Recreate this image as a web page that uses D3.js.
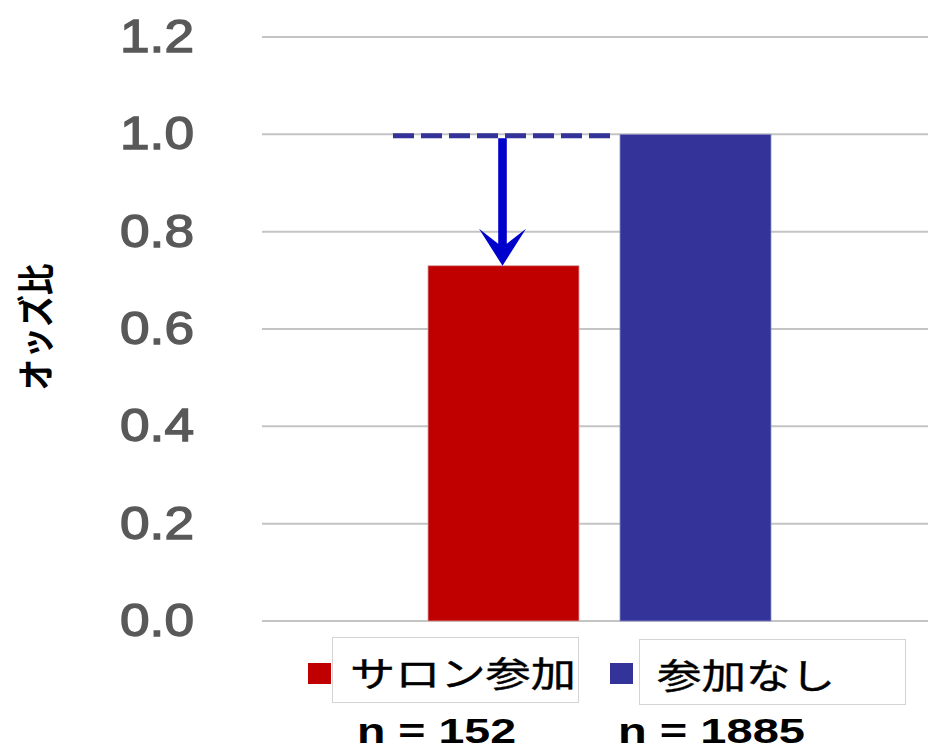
<!DOCTYPE html>
<html>
<head>
<meta charset="utf-8">
<script src="https://cdn.jsdelivr.net/npm/d3@7"></script>
<style>
  html, body { margin: 0; padding: 0; background: #fff; }
  svg { display: block; }
</style>
</head>
<body>
<svg id="chart" width="928" height="749"></svg>
<script>
// Odds ratio of the two groups
const categories = ["サロン参加", "参加なし"];
const oddsRatios = [0.73, 1.0];
const sampleSizes = [152, 1885];
const barColors = ["#C00000", "#333399"];
const yTicks = [0, 0.2, 0.4, 0.6, 0.8, 1.0, 1.2];
const referenceValue = 1.0;
const yTitle = "オッズ比";

const W = 928, H = 749;
const svg = d3.select("#chart");

const y = d3.scaleLinear().domain([0, 1.2]).range([621, 37]);
const x = d3.scaleBand()
  .domain(categories)
  .range([407.5, 791.5])
  .paddingInner(0.2135)
  .paddingOuter(0.1068);

const LATIN = "'Liberation Sans', Arial, sans-serif";
const CJK = "'Noto Sans CJK JP', 'Noto Sans CJK SC', sans-serif";

// Horizontal gridlines
svg.append("g")
  .selectAll("line")
  .data(yTicks)
  .join("line")
  .attr("x1", 262).attr("x2", W)
  .attr("y1", d => y(d)).attr("y2", d => y(d))
  .attr("stroke", "#c4c4c4")
  .attr("stroke-width", 2);

// Y tick labels
svg.append("g")
  .selectAll("text")
  .data(yTicks)
  .join("text")
  .attr("x", 194)
  .attr("y", d => y(d) + 15)
  .attr("text-anchor", "end")
  .attr("font-family", LATIN)
  .attr("font-size", 46)
  .attr("fill", "#595959")
  .attr("stroke", "#595959")
  .attr("stroke-width", 1.4)
  .attr("textLength", 74)
  .attr("lengthAdjust", "spacingAndGlyphs")
  .text(d => d3.format(".1f")(d));

// Y axis title
svg.append("text")
  .attr("transform", `translate(50,327) rotate(-90)`)
  .attr("text-anchor", "middle")
  .attr("font-family", CJK)
  .attr("font-weight", "bold")
  .attr("font-size", 37)
  .attr("fill", "#000")
  .attr("textLength", 127)
  .attr("lengthAdjust", "spacingAndGlyphs")
  .text(yTitle);

// Bars
svg.append("g")
  .selectAll("rect")
  .data(categories)
  .join("rect")
  .attr("x", d => x(d))
  .attr("width", x.bandwidth())
  .attr("y", (d, i) => y(oddsRatios[i]))
  .attr("height", (d, i) => y(0) - y(oddsRatios[i]))
  .attr("fill", (d, i) => barColors[i])
  .attr("stroke", (d, i) => i === 0 ? "#d9a0a0" : "#8f8fc4")
  .attr("stroke-width", 0.8);

// Dashed reference line at the odds ratio of the comparison group
const refY = y(referenceValue) + 1.5;
svg.append("line")
  .attr("x1", 393).attr("x2", 611)
  .attr("y1", refY).attr("y2", refY)
  .attr("stroke", "#333399")
  .attr("stroke-width", 5)
  .attr("stroke-dasharray", "21 7");

// Arrow from the reference level down to the participating group's bar
const ax = x(categories[0]) + x.bandwidth() / 2 - 1;
const yTop = refY + 2.5;
const yTip = y(oddsRatios[0]);
const headLen = 37, headHalf = 23.5, notch = 15, shaft = 4.3;
const arrowPath = d3.path();
arrowPath.moveTo(ax - shaft, yTop);
arrowPath.lineTo(ax + shaft, yTop);
arrowPath.lineTo(ax + shaft, yTip - headLen + notch);
arrowPath.lineTo(ax + headHalf, yTip - headLen);
arrowPath.lineTo(ax, yTip);
arrowPath.lineTo(ax - headHalf, yTip - headLen);
arrowPath.lineTo(ax - shaft, yTip - headLen + notch);
arrowPath.closePath();
svg.append("path")
  .attr("d", arrowPath.toString())
  .attr("fill", "#0000CC");

// Legend
const legendLayout = [
  { sx: 308, box: [332, 637, 246, 65], tx: 350, tw: 226, nx: 357, nw: 159 },
  { sx: 610, box: [639, 639, 266, 65], tx: 657, tw: 178, nx: 618, nw: 187 }
];
const legend = svg.append("g");
categories.forEach((c, i) => {
  const L = legendLayout[i];
  legend.append("rect")
    .attr("x", L.sx).attr("y", 663)
    .attr("width", 23).attr("height", 21)
    .attr("fill", barColors[i]);
  legend.append("rect")
    .attr("x", L.box[0] + 0.5).attr("y", L.box[1] + 0.5)
    .attr("width", L.box[2]).attr("height", L.box[3])
    .attr("fill", "#fff")
    .attr("stroke", "#d4d4d4")
    .attr("stroke-width", 1);
  legend.append("text")
    .attr("x", L.tx).attr("y", L.box[1] + 50)
    .attr("font-family", CJK)
    .attr("font-size", 35)
    .attr("fill", "#000")
    .attr("stroke", "#000")
    .attr("stroke-width", 0.4)
    .attr("textLength", L.tw)
    .attr("lengthAdjust", "spacingAndGlyphs")
    .text(c);
  legend.append("text")
    .attr("x", L.nx).attr("y", 743)
    .attr("font-family", LATIN)
    .attr("font-weight", "bold")
    .attr("font-size", 35)
    .attr("fill", "#000")
    .attr("textLength", L.nw)
    .attr("lengthAdjust", "spacingAndGlyphs")
    .text(`n = ${sampleSizes[i]}`);
});
</script>
</body>
</html>
